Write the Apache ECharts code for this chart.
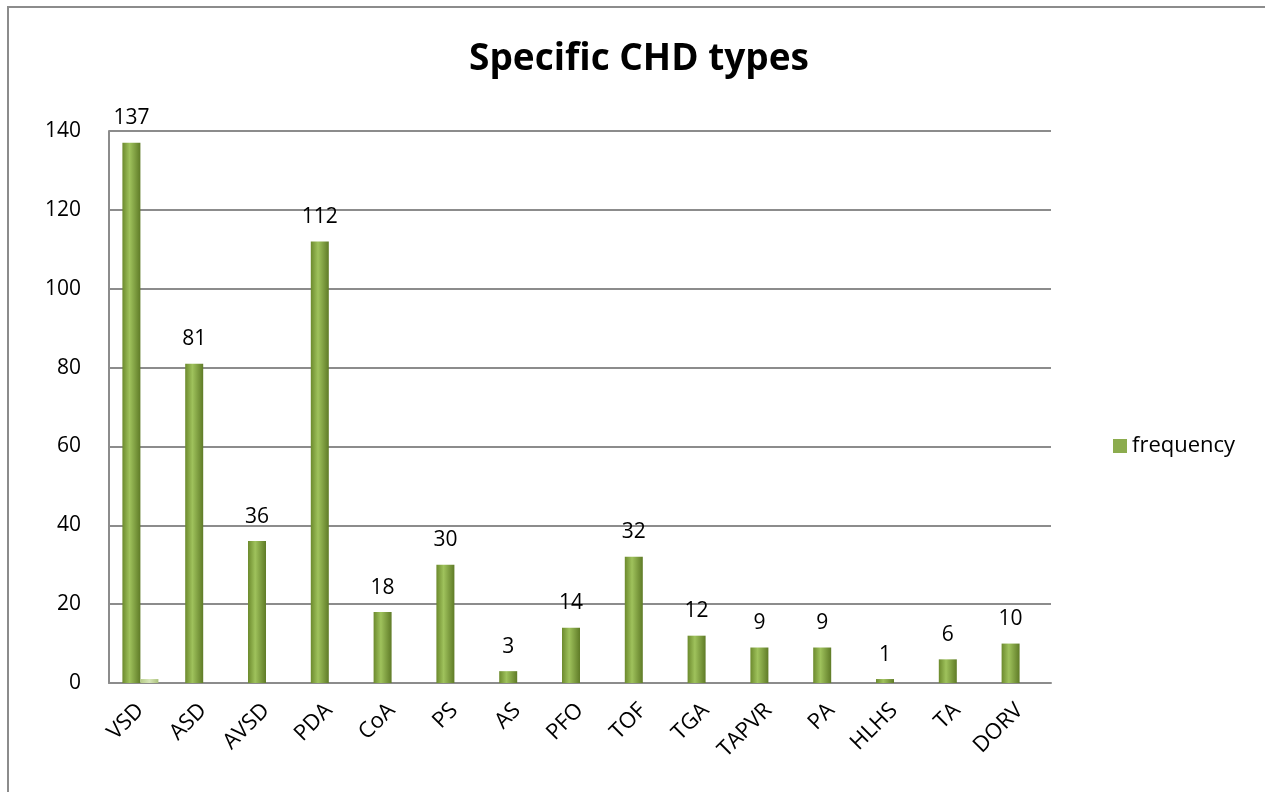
<!DOCTYPE html>
<html>
<head>
<meta charset="utf-8">
<script src="https://cdn.jsdelivr.net/npm/echarts@6/dist/echarts.min.js"></script>
<style>
  html, body { margin: 0; padding: 0; background: #fff; }
  #main { width: 1265px; height: 792px; }
</style>
</head>
<body>
<div id="main"></div>
<script>
  // categories and values
  var types = ['VSD', 'ASD', 'AVSD', 'PDA', 'CoA', 'PS', 'AS', 'PFO', 'TOF', 'TGA', 'TAPVR', 'PA', 'HLHS', 'TA', 'DORV'];
  var frequency = [137, 81, 36, 112, 18, 30, 3, 14, 32, 12, 9, 9, 1, 6, 10];
  // small pale bar drawn beside VSD (no legend entry)
  var extra = [1, null, null, null, null, null, null, null, null, null, null, null, null, null, null];
  var yTicks = { min: 0, max: 140, interval: 20 };

  var font = '"Open Sans", sans-serif';
  var myChart = echarts.init(document.getElementById('main'));

  myChart.setOption({
    backgroundColor: '#fff',
    animation: false,
    textStyle: { fontFamily: font },
    title: {
      text: 'Specific CHD types',
      left: 634,
      top: 36,
      textAlign: 'center',
      textStyle: { fontSize: 37, fontWeight: 'bold', color: '#000', fontFamily: font }
    },
    legend: {
      data: [{ name: 'frequency', icon: 'rect', itemStyle: { color: '#8cac4e' } }],
      left: 1108,
      top: 430,
      itemWidth: 14,
      itemHeight: 14,
      itemGap: 6,
      textStyle: { fontSize: 22, color: '#000', fontFamily: font }
    },
    graphic: [{
      type: 'rect',
      shape: { x: 8, y: 7, width: 1300, height: 830 },
      style: { fill: 'none', stroke: '#8c8c8c', lineWidth: 2 },
      silent: true
    }],
    grid: { left: 109, right: 214, top: 131, bottom: 109 },
    xAxis: {
      type: 'category',
      data: types,
      axisLine: { lineStyle: { color: '#8c8c8c', width: 2 } },
      axisTick: { show: false },
      axisLabel: {
        rotate: 45,
        interval: 0,
        margin: 24,
        fontSize: 22,
        color: '#000',
        fontFamily: font
      }
    },
    yAxis: {
      type: 'value',
      min: yTicks.min,
      max: yTicks.max,
      interval: yTicks.interval,
      axisLine: { show: true, lineStyle: { color: '#8c8c8c', width: 2 } },
      axisTick: { show: false },
      axisLabel: { margin: 28, fontSize: 21, color: '#000', fontFamily: font },
      splitLine: { lineStyle: { color: '#8c8c8c', width: 2 } }
    },
    series: [{
      name: 'frequency',
      type: 'bar',
      barWidth: 18,
      barGap: '0%',
      data: frequency,
      itemStyle: {
        color: new echarts.graphic.LinearGradient(0, 0, 1, 0, [
          { offset: 0, color: '#6c8a2d' },
          { offset: 0.4, color: '#9fc25c' },
          { offset: 1, color: '#5f7b27' }
        ])
      },
      label: {
        show: true,
        position: 'top',
        distance: 14,
        fontSize: 21,
        color: '#000',
        fontFamily: font
      }
    }, {
      name: 'pale',
      type: 'bar',
      barWidth: 18,
      data: extra,
      itemStyle: {
        color: new echarts.graphic.LinearGradient(0, 0, 1, 0, [
          { offset: 0, color: '#b5cc86' },
          { offset: 0.5, color: '#d7e6b8' },
          { offset: 1, color: '#aac17a' }
        ])
      }
    }]
  });
</script>
</body>
</html>
